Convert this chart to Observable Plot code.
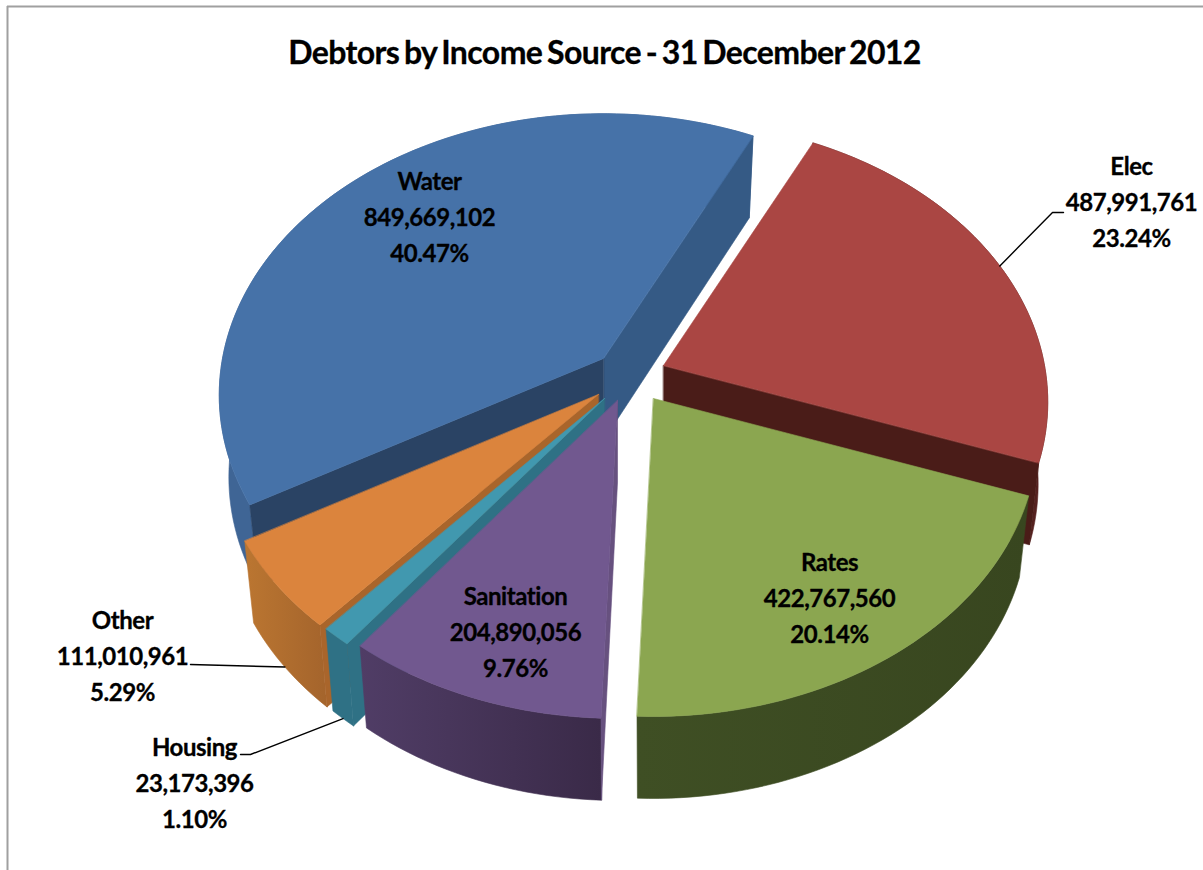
<!DOCTYPE html>
<html>
<head>
<meta charset="utf-8">
<script src="https://cdn.jsdelivr.net/npm/d3@7"></script>
<script src="https://cdn.jsdelivr.net/npm/@observablehq/plot@0.6"></script>
<style>
  html, body { margin: 0; background: #fff; }
  svg { display: block; }
  .slice-label text { letter-spacing: -0.45px; }
  .chart-title text { letter-spacing: -0.6px; word-spacing: -2.5px; }
</style>
</head>
<body>
<div id="chart"></div>
<script>
// Debtors per income source, in pie order (clockwise).
const sources = ["Water", "Elec", "Rates", "Sanitation", "Housing", "Other"];
const amounts = [849669102, 487991761, 422767560, 204890056, 23173396, 111010961];
const shares = ["40.47%", "23.24%", "20.14%", "9.76%", "1.10%", "5.29%"];
const title = "Debtors by Income Source - 31 December 2012";

// Surface colours per source: top, outer wall, wall along the clockwise edge, wall along the other edge.
const topColors = ["#4672a8", "#aa4643", "#8ba650", "#71588f", "#4198af", "#db843d"];
const rimColors = ["#3f6595", "#562220", "url(#rim-rates)", "url(#rim-sanitation)", "#2f7185", "url(#rim-other)"];
const endWallColors = ["#355a85", "#4a1c18", "#3a4820", "#5e4a78", "#2f7185", "#a9652b"];
const startWallColors = ["#2a4364", "#4a1c18", "#3a4820", "#67517f", "#2f7185", "#a9652b"];

// Pie geometry: rotation of the first slice, perspective and extrusion.
const firstAngle = 240.3;
const radius = 381;
const tilt = 0.726;
const perspective = 0.13;
const depth = 82;
const floorShrink = 0.975;

// Hub of each exploded slice on the page.
const hubs = {
  Water: [603, 358], Elec: [663, 365], Rates: [653, 398],
  Sanitation: [617, 400], Housing: [604, 398], Other: [598, 394]
};
// Slices are painted back to front.
const paintOrder = ["Water", "Elec", "Other", "Housing", "Sanitation", "Rates"];

// Centre of each three-line label, with the leader's elbow points where a slice has one.
const labelPlacement = {
  Water: {x: 429, y: 214},
  Elec: {x: 1131, y: 199, leader: [[1052, 212], [1063, 212]], onTop: true},
  Rates: {x: 829, y: 595},
  Sanitation: {x: 515, y: 629},
  Housing: {x: 194, y: 780, leader: [[250, 754], [240, 754]]},
  Other: {x: 122, y: 653, leader: [[190, 664]]}
};

const rad = (d) => (d * Math.PI) / 180;

// Plane point at angle t (clockwise from the top of the pie), relative to a slice hub.
function rimOffset(t) {
  const u = Math.sin(t), v = -Math.cos(t);
  const s = 1 / (1 - perspective * v);
  return [radius * u * s, radius * tilt * v * s];
}
const topPoint = ([hx, hy], t) => {
  const [dx, dy] = rimOffset(t);
  return [hx + dx, hy + dy];
};
const floorPoint = ([hx, hy], t) => {
  const [dx, dy] = rimOffset(t);
  return [hx + dx * floorShrink, hy + dy + depth];
};

const arcs = d3.pie().sort(null)
  .startAngle(rad(firstAngle))
  .endAngle(rad(firstAngle + 360))(amounts);

const slices = sources.map((name, i) => {
  const {startAngle: a0, endAngle: a1} = arcs[i];
  const steps = Math.max(2, Math.ceil((a1 - a0) / rad(1.5)));
  const angles = d3.range(steps + 1).map((k) => a0 + ((a1 - a0) * k) / steps);
  return {name, i, a0, a1, angles, hub: hubs[name]};
});
const bySource = new Map(slices.map((s) => [s.name, s]));

const asRows = (pts) => pts.map(([x, y]) => ({x, y}));
const polygon = (pts, fill) =>
  Plot.line(asRows(pts), {x: "x", y: "y", fill, stroke: fill, strokeWidth: 0.6, curve: "linear-closed"});

function sliceMarks(s) {
  const {hub, angles, a0, a1, i} = s;
  const hubFloor = [hub[0], hub[1] + depth];
  const wall = (t, fill) => polygon([hub, topPoint(hub, t), floorPoint(hub, t), hubFloor], fill);
  const rim = [
    ...angles.map((t) => topPoint(hub, t)),
    ...angles.slice().reverse().map((t) => floorPoint(hub, t))
  ];
  const top = [hub, ...angles.map((t) => topPoint(hub, t))];
  // A cut face shows only when it turns toward the viewer.
  const walls = [];
  if (Math.sin(a1) > 0) walls.push(wall(a1, endWallColors[i]));
  if (Math.sin(a0) < 0) walls.push(wall(a0, startWallColors[i]));
  return [polygon(rim, rimColors[i]), ...walls, polygon(top, topColors[i])];
}

// Leader lines run from a label's elbow to the middle of the slice's rim.
const leaderRows = sources.flatMap((name) => {
  const place = labelPlacement[name];
  if (!place.leader) return [];
  const s = bySource.get(name);
  const mid = (s.a0 + s.a1) / 2;
  const end = place.onTop ? topPoint(s.hub, mid) : floorPoint(s.hub, mid);
  return [end, ...place.leader].map(([x, y]) => ({name, x, y}));
});

const labelRows = sources.map((name, i) => ({
  x: labelPlacement[name].x,
  y: labelPlacement[name].y,
  text: `${name}\n${d3.format(",")(amounts[i])}\n${shares[i]}`
}));

// Gradients used by the curved outer walls.
function gradients() {
  const defs = d3.create("svg:defs");
  const stops = {
    "rim-rates": [["#3f4f24", 0], ["#38461f", 1]],
    "rim-sanitation": [["#503d66", 0], ["#3a2a48", 1]],
    "rim-other": [["#bb7631", 0], ["#a4642c", 1]]
  };
  for (const [id, list] of Object.entries(stops)) {
    const g = defs.append("linearGradient").attr("id", id)
      .attr("x1", 0).attr("x2", 1).attr("y1", 0).attr("y2", 0);
    for (const [color, at] of list) {
      g.append("stop").attr("offset", at).attr("stop-color", color);
    }
  }
  return defs.node();
}

const font = "Lato, 'Open Sans', sans-serif";

const chart = Plot.plot({
  width: 1203,
  height: 870,
  margin: 0,
  style: {background: "#fff"},
  x: {domain: [0, 1203], range: [0, 1203], axis: null},
  y: {domain: [0, 870], range: [0, 870], axis: null},
  marks: [
    gradients,
    // Chart area border: top and left edges.
    Plot.ruleY([6], {stroke: "#a0a0a0", strokeWidth: 2, x1: 7, x2: 1203}),
    Plot.ruleX([7], {stroke: "#a0a0a0", strokeWidth: 2, y1: 6, y2: 870}),
    ...paintOrder.flatMap((name) => sliceMarks(bySource.get(name))),
    Plot.line(leaderRows, {x: "x", y: "y", z: "name", stroke: "#000", strokeWidth: 1.4, curve: "linear"}),
    Plot.text(labelRows, {
      x: "x", y: "y", text: "text", className: "slice-label",
      lineHeight: 1.5, fontSize: 24, fontWeight: 700, fontFamily: font,
      fill: "#000", stroke: "#000", strokeWidth: 0.3
    }),
    Plot.text([title], {
      x: () => 604, y: () => 53, text: (d) => d, className: "chart-title",
      fontSize: 32, fontWeight: 700, fontFamily: font,
      fill: "#000", stroke: "#000", strokeWidth: 0.3
    })
  ]
});
document.getElementById("chart").append(chart);
</script>
</body>
</html>
